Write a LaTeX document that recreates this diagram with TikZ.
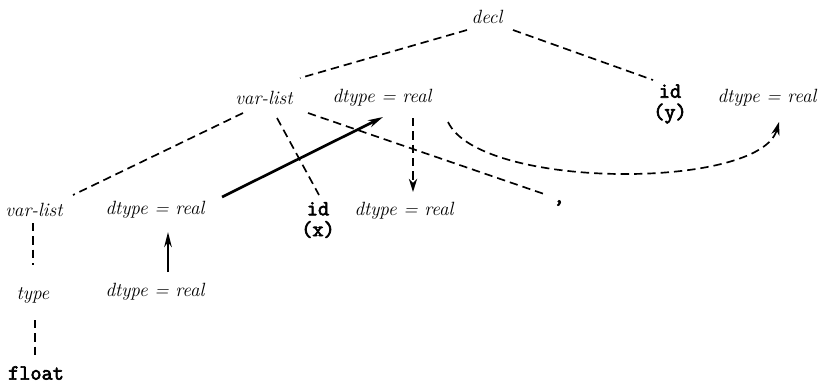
\documentclass[tikz,border=0pt]{standalone}
\usepackage{fontspec}
\newfontfamily\tokfont[FakeBold=3]{Latin Modern Mono}
\usetikzlibrary{arrows.meta,calc}

\begin{document}
\begin{tikzpicture}[x=.6pt,y=-.6pt,
    every node/.style={font=\fontsize{11.5}{13}\selectfont\itshape,inner sep=0pt},
    tok/.style={font=\fontsize{13}{12.5}\selectfont\tokfont,align=center},
    tree/.style={line width=1pt,dash pattern=on 5pt off 3pt},
    dep/.style={-{Stealth[length=9pt,width=4.5pt]},line width=1.6pt},
    depdash/.style={tree,-{Stealth[length=8pt,width=5pt]}}]
        \useasboundingbox (0,0) rectangle (821,385);
        % parse tree
        \node (decl) at (487,17) {decl};
        \node (vlTop) at (264,98) {var-list};
        \node (dtTop) at (382,98) {dtype = real};
        \node[tok] (idY) at (670,104) {id\\(y)};
        \node (dtY) at (767,98) {dtype = real};
        \node (vlBot) at (34,210) {var-list};
        \node (dtBot) at (155,210) {dtype = real};
        \node[tok] (idX) at (318,220) {id\\(x)};
        \node (dtX) at (404,211) {dtype = real};
        \node[tok] (comma) at (559,203) {,};
        \node (typeN) at (33,295) {type};
        \node[tok] (floatN) at (36,373) {float};
        \node (dtType) at (155,292) {dtype = real};
        \draw[tree] ($(decl)+(-20,13)$) -- ($(vlTop)+(36,-20)$);
        \draw[tree] ($(decl)+(26,13)$) -- ($(idY)+(-17,-24)$);
        \draw[tree] ($(vlTop)+(-21,15)$) -- ($(vlBot)+(39,-15)$);
        \draw[tree] ($(vlTop)+(13,20)$) -- ($(idX)+(1,-25)$);
        \draw[tree] ($(vlTop)+(44,15)$) -- ($(comma)+(-12,-8)$);
        \draw[tree] ($(vlBot)+(-1,13)$) -- ($(typeN)+(0,-30)$);
        \draw[tree] ($(typeN)+(2,25)$) -- ($(floatN)+(-1,-15)$);
        % dependencies
        \draw[dep] ($(dtType)+(13,-20)$) -- ($(dtBot)+(13,22)$);
        \draw[dep] ($(dtBot)+(67,-13)$) -- ($(dtTop)+(1,19)$);
        \draw[depdash] ($(dtTop)+(31,20)$) -- ($(dtX)+(9,-19)$);
        \draw[depdash] ($(dtTop)+(66,24)$) .. controls ($(dtTop)+(98,92)$) and ($(dtY)+(-7,92)$) .. ($(dtY)+(12,24)$);
      \end{tikzpicture}
\end{document}
